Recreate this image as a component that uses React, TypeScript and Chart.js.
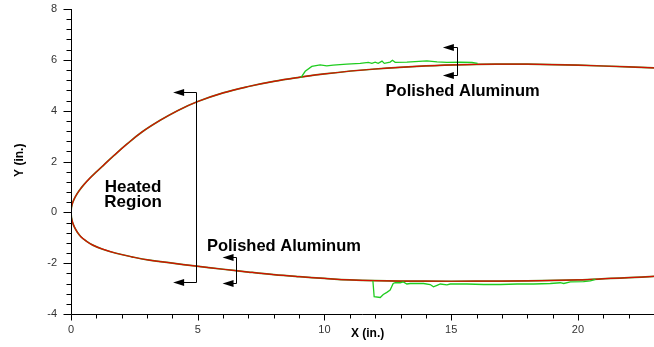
import React, { useEffect, useRef } from "react";
import { Chart, registerables } from "chart.js";

Chart.register(...registerables);

// Surface profile (model) – upper side
const upperX = [0, 0.02, 0.08, 0.18, 0.32, 0.5, 0.75, 1.0, 1.3, 1.7, 2.2, 2.8, 3.5, 4.2, 5, 6, 7, 8, 9, 10, 12, 14, 16, 17, 18, 20, 22, 23];
const upperY = [0, 0.21, 0.42, 0.63, 0.85, 1.08, 1.35, 1.59, 1.87, 2.24, 2.68, 3.16, 3.61, 4.0, 4.36, 4.7, 4.95, 5.15, 5.31, 5.45, 5.64, 5.76, 5.82, 5.83, 5.83, 5.79, 5.72, 5.68];
// Surface profile (model) – lower side
const lowerX = [0, 0.02, 0.06, 0.13, 0.25, 0.39, 0.6, 0.86, 1.25, 1.78, 2.4, 3.09, 4, 4.87, 6, 7, 8, 9, 10, 11, 12, 14, 16, 18, 20, 21.3, 22, 23];
const lowerY = [0, -0.22, -0.39, -0.57, -0.78, -0.96, -1.13, -1.29, -1.45, -1.61, -1.75, -1.88, -2.0, -2.11, -2.24, -2.35, -2.45, -2.53, -2.6, -2.66, -2.69, -2.71, -2.71, -2.7, -2.66, -2.6, -2.57, -2.52];

// Measured polished aluminum – upper
const alumUpX = [9.07, 9.24, 9.5, 9.83, 10.09, 10.34, 10.88, 11.41, 11.73, 11.87, 12.0, 12.12, 12.27, 12.36, 12.59, 12.68, 12.79, 13.25, 14.04, 14.44, 14.83, 15.36, 15.82, 16.04];
const alumUpY = [5.3, 5.55, 5.74, 5.8, 5.76, 5.79, 5.83, 5.86, 5.9, 5.86, 5.91, 5.86, 5.95, 5.86, 5.91, 5.98, 5.9, 5.91, 5.96, 5.92, 5.9, 5.91, 5.9, 5.86];
// Measured polished aluminum – lower
const alumLoX = [11.91, 11.96, 12.2, 12.32, 12.46, 12.59, 12.71, 12.79, 12.99, 13.11, 13.25, 13.38, 13.65, 13.91, 14.17, 14.3, 14.44, 14.57, 14.83, 14.96, 15.62, 16.28, 16.94, 17.6, 18.25, 18.91, 19.3, 19.44, 19.7, 20.22, 20.49, 20.69];
const alumLoY = [-2.69, -3.32, -3.35, -3.23, -3.15, -3.06, -2.8, -2.77, -2.77, -2.74, -2.82, -2.8, -2.8, -2.8, -2.84, -2.93, -2.87, -2.82, -2.85, -2.82, -2.82, -2.84, -2.84, -2.82, -2.82, -2.8, -2.77, -2.8, -2.74, -2.73, -2.7, -2.64];

// Axis ticks
const xMajorTicks = [0, 5, 10, 15, 20];
const yMajorTicks = [-4, -2, 0, 2, 4, 6, 8];
const xMinorStep = 1;
const yMinorStep = 0.4;

// Annotation labels
const labelHeated = ["Heated", "Region"];
const labelAlum = "Polished Aluminum";

const FONT = "'Liberation Sans', Arial, Helvetica, sans-serif";

const zip = (xs: number[], ys: number[]) => xs.map((x, i) => ({ x, y: ys[i] }));

export default function App() {
  const ref = useRef<HTMLCanvasElement | null>(null);

  useEffect(() => {
    if (!ref.current) return;

    const decor = {
      id: "decor",
      afterDraw(chart: any) {
        const { ctx, chartArea } = chart;
        const xs = chart.scales.x;
        const ys = chart.scales.y;
        const px = (v: number) => xs.getPixelForValue(v);
        const py = (v: number) => ys.getPixelForValue(v);
        ctx.save();
        ctx.strokeStyle = "#000";
        ctx.fillStyle = "#000";
        ctx.lineWidth = 1;
        // axis lines
        const L = Math.round(chartArea.left) + 0.5;
        const B = Math.round(chartArea.bottom) + 0.5;
        ctx.beginPath();
        ctx.moveTo(L, Math.round(chartArea.top));
        ctx.lineTo(L, B);
        ctx.lineTo(chartArea.right, B);
        ctx.stroke();
        // y ticks
        ctx.beginPath();
        for (let v = -4; v <= 8.0001; v += yMinorStep) {
          const yy = Math.round(py(v)) + 0.5;
          const major = yMajorTicks.some((m) => Math.abs(m - v) < 1e-6);
          ctx.moveTo(L - (major ? 8 : 5), yy);
          ctx.lineTo(L, yy);
        }
        // x ticks
        for (let v = 0; v <= 23.0001; v += xMinorStep) {
          const xx = Math.round(px(v)) + 0.5;
          const major = xMajorTicks.some((m) => Math.abs(m - v) < 1e-6);
          ctx.moveTo(xx, B);
          ctx.lineTo(xx, B + (major ? 6 : 4));
        }
        ctx.stroke();

        // axis titles
        ctx.font = `bold 12px ${FONT}`;
        ctx.textAlign = "center";
        ctx.textBaseline = "middle";
        ctx.fillText("X (in.)", px(11.7), 334);
        ctx.save();
        ctx.translate(20, py(2.05));
        ctx.rotate(-Math.PI / 2);
        ctx.fillText("Y (in.)", 0, 0);
        ctx.restore();

        // brackets with arrows
        const bracket = (xv: number, yTop: number, yBot: number, tip: number) => {
          const x0 = Math.round(px(xv)) + 0.5;
          const y0 = Math.round(py(yTop)) + 0.5;
          const y1 = Math.round(py(yBot)) + 0.5;
          const xt = px(tip);
          ctx.beginPath();
          ctx.moveTo(xt + 8, y0);
          ctx.lineTo(x0, y0);
          ctx.lineTo(x0, y1);
          ctx.lineTo(xt + 8, y1);
          ctx.stroke();
          for (const yy of [y0, y1]) {
            ctx.beginPath();
            ctx.moveTo(xt, yy);
            ctx.lineTo(xt + 11, yy - 3.5);
            ctx.lineTo(xt + 11, yy + 3.5);
            ctx.closePath();
            ctx.fill();
          }
        };
        bracket(4.92, 4.74, -2.73, 4.03);
        bracket(6.51, -1.77, -2.79, 5.98);
        bracket(15.23, 6.49, 5.39, 14.67);

        // labels
        ctx.font = `bold 17px ${FONT}`;
        ctx.textAlign = "center";
        ctx.textBaseline = "alphabetic";
        ctx.fillText(labelHeated[0], px(2.45), py(0.8));
        ctx.fillText(labelHeated[1], px(2.45), py(0.2));
        ctx.font = `bold 16.5px ${FONT}`;
        ctx.fillText(labelAlum, px(15.45), py(4.56));
        ctx.fillText(labelAlum, px(8.4), py(-1.53));
        ctx.restore();
      },
    };

    const common = { showLine: true, pointRadius: 0 };
    const chart = new Chart(ref.current, {
      type: "scatter",
      data: {
        datasets: [
          { ...common, data: zip(alumUpX, alumUpY), borderColor: "#1fcc1f", borderWidth: 1.3, tension: 0 },
          { ...common, data: zip(alumLoX, alumLoY), borderColor: "#1fcc1f", borderWidth: 1.3, tension: 0 },
          { ...common, data: zip(upperX, upperY), borderColor: "#d41000", borderWidth: 1.2, tension: 0.4 },
          { ...common, data: zip(lowerX, lowerY), borderColor: "#d41000", borderWidth: 1.2, tension: 0.4 },
          { ...common, data: zip(upperX, upperY), borderColor: "#5a8a20", borderWidth: 1.7, tension: 0.4 },
          { ...common, data: zip(lowerX, lowerY), borderColor: "#5a8a20", borderWidth: 1.7, tension: 0.4 },
        ],
      },
      options: {
        responsive: false,
        animation: false,
        layout: { padding: { top: 9, left: 0, right: 0, bottom: 0 } },
        plugins: { legend: { display: false }, tooltip: { enabled: false }, title: { display: false } },
        scales: {
          x: {
            type: "linear",
            min: 0,
            max: 23,
            grid: { display: false, drawTicks: false },
            border: { display: false },
            afterBuildTicks: (s: any) => { s.ticks = xMajorTicks.map((v) => ({ value: v })); },
            afterFit: (s: any) => { s.height = 33; s.paddingLeft = 0; s.paddingRight = 0; },
            ticks: { color: "#333", font: { family: FONT, size: 11 }, padding: 9, maxRotation: 0, autoSkip: false },
          },
          y: {
            type: "linear",
            min: -4,
            max: 8,
            grid: { display: false, drawTicks: false },
            border: { display: false },
            afterBuildTicks: (s: any) => { s.ticks = yMajorTicks.map((v) => ({ value: v })); },
            afterFit: (s: any) => { s.width = 71; s.paddingTop = 0; s.paddingBottom = 0; },
            ticks: { color: "#333", font: { family: FONT, size: 11 }, padding: 14, autoSkip: false },
          },
        },
      },
      plugins: [decor],
    } as any);
    return () => chart.destroy();
  }, []);

  return (
    <div style={{ position: "fixed", left: 0, top: 0, width: 654, height: 347, background: "#fff" }}>
      <canvas ref={ref} width={654} height={347} style={{ display: "block" }} />
    </div>
  );
}
